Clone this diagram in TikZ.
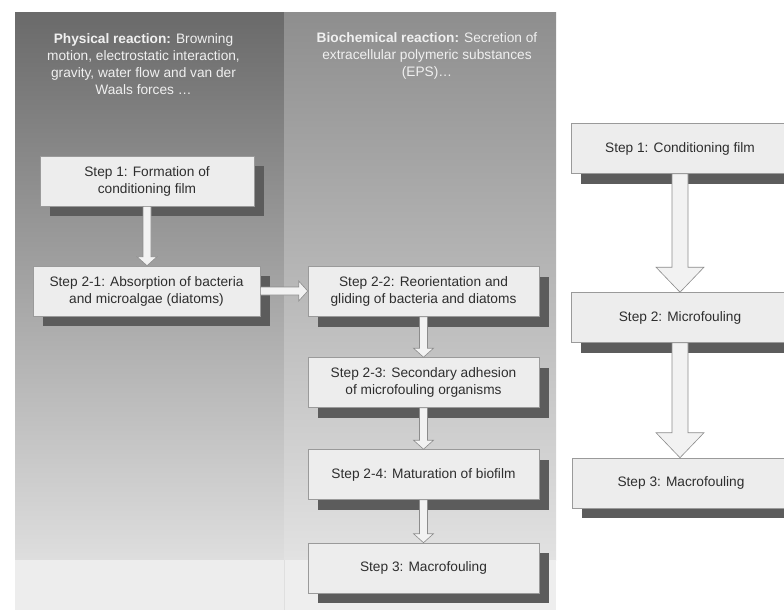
\documentclass[tikz,border=0pt]{standalone}
\usepackage{fontspec}
\setmainfont{Liberation Sans}
\usetikzlibrary{shadows,calc}
\definecolor{boxfill}{HTML}{EDEDED}
\definecolor{boxline}{HTML}{9A9A9A}
\definecolor{boxtext}{HTML}{2E2E2E}
\definecolor{shadowc}{HTML}{5C5C5C}
\definecolor{arrline}{HTML}{8C8C8C}
\definecolor{arrfill}{HTML}{F2F2F2}
\definecolor{leftTop}{HTML}{6A6A6A}
\definecolor{leftBot}{HTML}{DEDEDE}
\definecolor{midTop}{HTML}{8E8E8E}
\definecolor{midBot}{HTML}{E2E2E2}
\definecolor{strip}{HTML}{EDEDED}
\definecolor{headtext}{HTML}{F0F0F0}
\newcommand{\boxfont}{\fontsize{13.7}{17}\selectfont}
\begin{document}
\begin{tikzpicture}[x=1pt,y=-1pt,
  stepbox/.style={draw=boxline, fill=boxfill, line width=0.6pt, minimum height=50pt,
    inner sep=2pt, align=center, text=boxtext, font=\boxfont,
    drop shadow={shadow xshift=10pt, shadow yshift=-10pt, fill=shadowc, opacity=1}},
  blockarrow/.style={draw=arrline, fill=arrfill, line width=0.6pt, line join=miter},
  headnode/.style={align=center, text=headtext, font=\boxfont, inner sep=0pt}
]
\useasboundingbox (0,0) rectangle (784,610);
\fill[white] (0,0) rectangle (784,610);
% panels
\shade[top color=leftTop, bottom color=leftBot] (15,12.5) rectangle (284,560);
\fill[strip] (15,560) rectangle (284,610);
\shade[top color=midTop, bottom color=midBot] (284,12.5) rectangle (556,560);
\fill[strip!96!white] (284,560) rectangle (556,610);
\draw[white!75!gray, line width=0.4pt] (284,560) -- (284,610);
% headers
\node[headnode] (hphys) at (143.5,64) {\textbf{Physical reaction:} Browning\\motion, electrostatic interaction,\\gravity, water flow and van der\\Waals forces \dots};
\node[headnode] (hbio) at (427,55.5) {\textbf{Biochemical reaction:} Secretion of\\extracellular polymeric substances\\(EPS)\dots};
% left column
\node[stepbox, minimum width=214pt] (s1) at (147,181) {Step 1: Formation of\\conditioning film};
\node[stepbox, minimum width=227pt] (s21) at (146.5,291) {Step 2-1: Absorption of bacteria\\and microalgae (diatoms)};
% middle column
\node[stepbox, minimum width=231pt] (s22) at (423.5,291.5) {Step 2-2: Reorientation and\\gliding of bacteria and diatoms};
\node[stepbox, minimum width=231pt] (s23) at (423.5,382.5) {Step 2-3: Secondary adhesion\\of microfouling organisms};
\node[stepbox, minimum width=231pt] (s24) at (423.5,474.5) {Step 2-4: Maturation of biofilm};
\node[stepbox, minimum width=231pt] (s3m) at (423.5,568) {Step 3: Macrofouling};
% right column
\node[stepbox, minimum width=218pt] (r1) at (680,148.5) {Step 1: Conditioning film};
\node[stepbox, minimum width=218pt] (r2) at (680,317.5) {Step 2: Microfouling};
\node[stepbox, minimum width=218pt] (r3) at (681,483) {Step 3: Macrofouling};
% small vertical block arrows
\foreach \a/\b in {s1/s21, s22/s23, s23/s24, s24/s3m}{
  \filldraw[blockarrow] ($(\a.south)+(-4,0)$) -- ($(\a.south |- \b.north)+(-4,-9)$)
    -- ($(\a.south |- \b.north)+(-10,-9)$) -- (\a.south |- \b.north)
    -- ($(\a.south |- \b.north)+(10,-9)$) -- ($(\a.south |- \b.north)+(4,-9)$)
    -- ($(\a.south)+(4,0)$) -- cycle;
}
% horizontal block arrow
\filldraw[blockarrow] ($(s21.east)+(0,-4)$) -- ($(s21.east -| s22.west)+(-9,-4)$)
  -- ($(s21.east -| s22.west)+(-9,-10)$) -- (s21.east -| s22.west)
  -- ($(s21.east -| s22.west)+(-9,10)$) -- ($(s21.east -| s22.west)+(-9,4)$)
  -- ($(s21.east)+(0,4)$) -- cycle;
% large vertical block arrows
\foreach \a/\b in {r1/r2, r2/r3}{
  \filldraw[blockarrow] ($(\a.south)+(-8,0)$) -- ($(\a.south |- \b.north)+(-8,-25)$)
    -- ($(\a.south |- \b.north)+(-24,-25)$) -- (\a.south |- \b.north)
    -- ($(\a.south |- \b.north)+(24,-25)$) -- ($(\a.south |- \b.north)+(8,-25)$)
    -- ($(\a.south)+(8,0)$) -- cycle;
}
\end{tikzpicture}
\end{document}
